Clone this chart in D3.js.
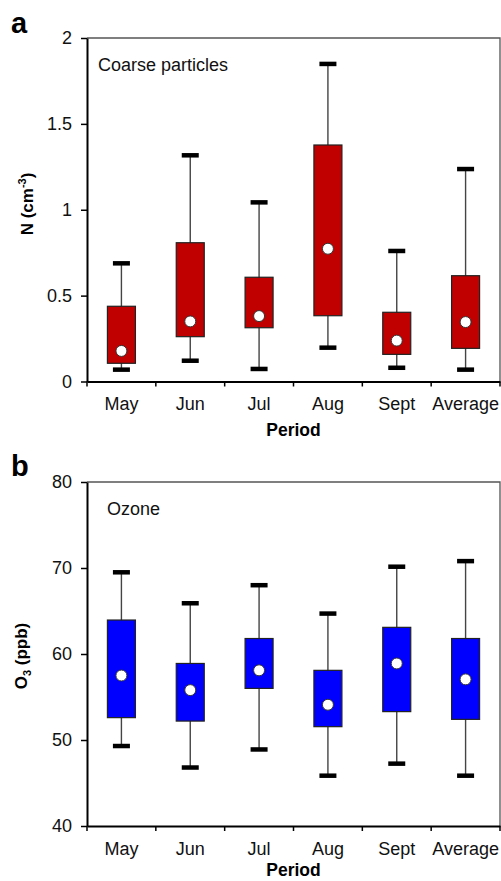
<!DOCTYPE html>
<html>
<head>
<meta charset="utf-8">
<script src="https://cdn.jsdelivr.net/npm/d3@7"></script>
<style>
  body { margin: 0; background: #fff; }
  svg text { font-family: "Liberation Sans", Arial, sans-serif; }
</style>
</head>
<body>
<div id="chart"></div>
<script>
// categories on the x axis (both panels)
var categories = ["May", "Jun", "Jul", "Aug", "Sept", "Average"];

// panel a: coarse particles N (cm-3)
var coarseLow  = [0.069, 0.121, 0.073, 0.197, 0.080, 0.069];
var coarseQ1   = [0.106, 0.261, 0.313, 0.383, 0.158, 0.193];
var coarseMid  = [0.178, 0.350, 0.381, 0.773, 0.238, 0.346];
var coarseQ3   = [0.438, 0.808, 0.607, 1.377, 0.403, 0.616];
var coarseHigh = [0.688, 1.317, 1.043, 1.849, 0.760, 1.237];
var coarseTicks = [0, 0.5, 1, 1.5, 2];

// panel b: ozone O3 (ppb)
var ozoneLow  = [49.3, 46.8, 48.9, 45.85, 47.25, 45.85];
var ozoneQ1   = [52.6, 52.2, 56.0, 51.55, 53.3, 52.4];
var ozoneMid  = [57.5, 55.8, 58.1, 54.1, 58.9, 57.05];
var ozoneQ3   = [63.95, 58.9, 61.8, 58.1, 63.1, 61.8];
var ozoneHigh = [69.5, 65.9, 68.0, 64.7, 70.15, 70.8];
var ozoneTicks = [40, 50, 60, 70, 80];

var W = 501, H = 881;

var svg = d3.select("#chart")
  .append("svg")
  .attr("width", W)
  .attr("height", H);

function drawPanel(cfg) {
  var x = d3.scaleBand()
    .domain(categories)
    .range([cfg.left, cfg.right])
    .padding(0);

  var y = d3.scaleLinear()
    .domain(cfg.domain)
    .range([cfg.bottom, cfg.top]);

  var g = svg.append("g");

  // grey frame top + right
  g.append("path")
    .attr("d", "M" + cfg.left + "," + cfg.top + "H" + cfg.right + "V" + cfg.bottom)
    .attr("fill", "none")
    .attr("stroke", "#555")
    .attr("stroke-width", 1.3);

  // y axis
  var yAxis = g.append("g")
    .attr("transform", "translate(" + cfg.left + ",0)")
    .call(d3.axisLeft(y).tickValues(cfg.ticks).tickFormat(d3.format("~g"))
      .tickSize(6).tickPadding(9).tickSizeOuter(0));
  yAxis.select(".domain").attr("stroke", "#000").attr("stroke-width", 2);
  yAxis.selectAll(".tick line").attr("stroke", "#000").attr("stroke-width", 1.5);
  yAxis.selectAll(".tick text")
    .attr("font-size", 18)
    .attr("fill", "#111")
    .style("font-family", "'Liberation Sans', Arial, sans-serif");

  // x axis: labels at centres, tick marks at the band edges
  var xAxis = g.append("g")
    .attr("transform", "translate(0," + cfg.bottom + ")")
    .call(d3.axisBottom(x).tickSize(0).tickPadding(16).tickSizeOuter(0));
  xAxis.select(".domain").attr("stroke", "#000").attr("stroke-width", 2);
  xAxis.selectAll(".tick text")
    .attr("font-size", 18)
    .attr("fill", "#111")
    .style("font-family", "'Liberation Sans', Arial, sans-serif");

  var edges = categories.map(function (d) { return x(d); }).concat([cfg.right]);
  g.append("g")
    .selectAll("line")
    .data(edges)
    .enter()
    .append("line")
    .attr("x1", function (d) { return d; })
    .attr("x2", function (d) { return d; })
    .attr("y1", cfg.bottom)
    .attr("y2", cfg.bottom + 5)
    .attr("stroke", "#000")
    .attr("stroke-width", 1.5);

  var rows = categories.map(function (c, i) {
    return { cat: c, low: cfg.low[i], q1: cfg.q1[i], mid: cfg.mid[i], q3: cfg.q3[i], high: cfg.high[i] };
  });

  var boxW = 28, capW = 17, capH = 4.5;
  var cx = function (d) { return x(d.cat) + x.bandwidth() / 2; };

  var box = g.append("g")
    .selectAll("g")
    .data(rows)
    .enter()
    .append("g");

  // whiskers
  box.append("line")
    .attr("x1", cx).attr("x2", cx)
    .attr("y1", function (d) { return y(d.low); })
    .attr("y2", function (d) { return y(d.high); })
    .attr("stroke", "#444")
    .attr("stroke-width", 1.4);

  // caps
  box.selectAll("rect.cap")
    .data(function (d) { return [d.low, d.high].map(function (v) { return { c: cx(d), v: v }; }); })
    .enter()
    .append("rect")
    .attr("class", "cap")
    .attr("x", function (d) { return d.c - capW / 2; })
    .attr("y", function (d) { return y(d.v) - capH / 2; })
    .attr("width", capW)
    .attr("height", capH)
    .attr("fill", "#000");

  // boxes
  box.append("rect")
    .attr("x", function (d) { return cx(d) - boxW / 2; })
    .attr("y", function (d) { return y(d.q3); })
    .attr("width", boxW)
    .attr("height", function (d) { return y(d.q1) - y(d.q3); })
    .attr("fill", cfg.color)
    .attr("stroke", "#222")
    .attr("stroke-width", 1.2);

  // centre dot
  box.append("circle")
    .attr("cx", cx)
    .attr("cy", function (d) { return y(d.mid); })
    .attr("r", 5.5)
    .attr("fill", "#fff")
    .attr("stroke", "#333")
    .attr("stroke-width", 1);

  // panel letter
  g.append("text")
    .attr("x", 11)
    .attr("y", cfg.letterY)
    .attr("font-size", 29)
    .attr("font-weight", "bold")
    .text(cfg.letter);

  // inside label
  g.append("text")
    .attr("x", cfg.left + cfg.noteDx)
    .attr("y", cfg.top + 33)
    .attr("font-size", 18)
    .attr("fill", "#111")
    .text(cfg.note);

  // x title
  g.append("text")
    .attr("x", (cfg.left + cfg.right) / 2)
    .attr("y", cfg.bottom + cfg.titleDy)
    .attr("text-anchor", "middle")
    .attr("font-size", 17.5)
    .attr("font-weight", "bold")
    .text("Period");

  // y title
  var yt = g.append("text")
    .attr("transform", "translate(" + cfg.ytX + "," + cfg.ytY + ") rotate(-90)")
    .attr("text-anchor", "middle")
    .attr("font-size", 17)
    .attr("font-weight", "bold");
  cfg.ytitle(yt);
}

drawPanel({
  left: 87, right: 500, top: 38, bottom: 381.5,
  domain: [0, 2], ticks: coarseTicks,
  low: coarseLow, q1: coarseQ1, mid: coarseMid, q3: coarseQ3, high: coarseHigh,
  color: "#c00000",
  letter: "a", letterY: 33,
  note: "Coarse particles", noteDx: 11,
  titleDy: 54,
  ytX: 33, ytY: 204,
  ytitle: function (t) {
    t.append("tspan").text("N (cm");
    t.append("tspan").attr("font-size", 11).attr("dy", -7).text("-3");
    t.append("tspan").attr("dy", 7).text(")");
  }
});

drawPanel({
  left: 87, right: 500, top: 482, bottom: 826,
  domain: [40, 80], ticks: ozoneTicks,
  low: ozoneLow, q1: ozoneQ1, mid: ozoneMid, q3: ozoneQ3, high: ozoneHigh,
  color: "#0000ff",
  letter: "b", letterY: 476,
  note: "Ozone", noteDx: 20,
  titleDy: 50,
  ytX: 27, ytY: 656,
  ytitle: function (t) {
    t.append("tspan").text("O");
    t.append("tspan").attr("font-size", 11).attr("dy", 4).text("3");
    t.append("tspan").attr("dy", -4).text(" (ppb)");
  }
});
</script>
</body>
</html>
